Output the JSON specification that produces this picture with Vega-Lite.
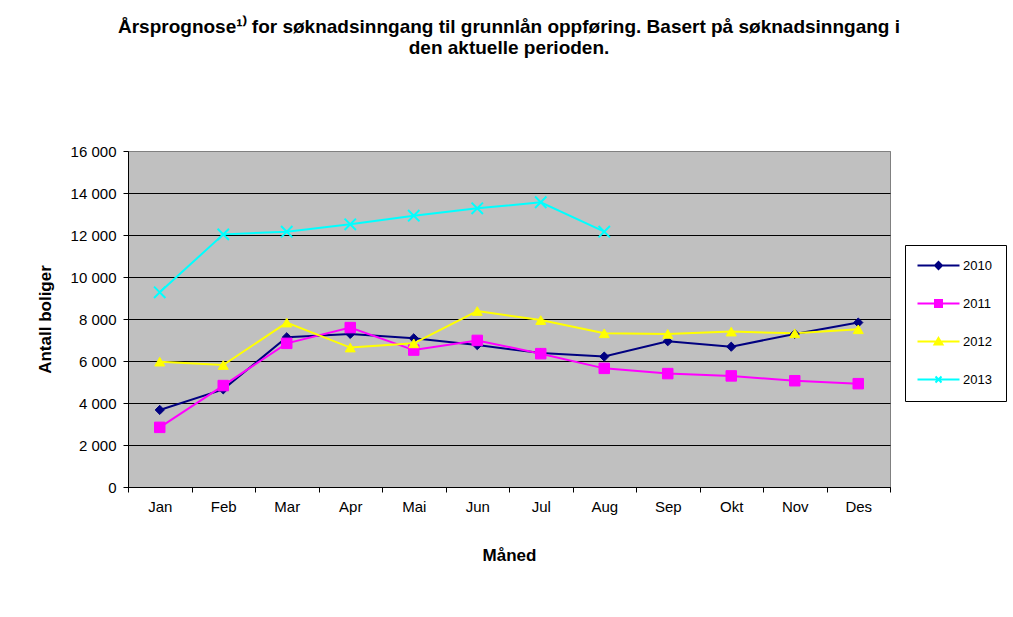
{
  "$schema": "https://vega.github.io/schema/vega-lite/v6.json",
  "width": 762,
  "height": 336,
  "autosize": {"type": "none"},
  "padding": {"left": 128, "top": 151, "right": 123, "bottom": 130},
  "background": "white",
  "title": {
    "text": ["Årsprognose¹⁾ for søknadsinngang til grunnlån oppføring. Basert på søknadsinngang i", "den aktuelle perioden."],
    "font": "Liberation Sans",
    "fontSize": 19,
    "fontWeight": "bold",
    "color": "black",
    "anchor": "middle",
    "frame": "group",
    "lineHeight": 21,
    "offset": 86
  },
  "data": {
    "values": [
      {"month": "Jan", "year": "2010", "value": 3670},
      {"month": "Feb", "year": "2010", "value": 4650},
      {"month": "Mar", "year": "2010", "value": 7130},
      {"month": "Apr", "year": "2010", "value": 7290},
      {"month": "Mai", "year": "2010", "value": 7080},
      {"month": "Jun", "year": "2010", "value": 6760},
      {"month": "Jul", "year": "2010", "value": 6380},
      {"month": "Aug", "year": "2010", "value": 6210},
      {"month": "Sep", "year": "2010", "value": 6940},
      {"month": "Okt", "year": "2010", "value": 6680},
      {"month": "Nov", "year": "2010", "value": 7290},
      {"month": "Des", "year": "2010", "value": 7830},
      {"month": "Jan", "year": "2011", "value": 2840},
      {"month": "Feb", "year": "2011", "value": 4830},
      {"month": "Mar", "year": "2011", "value": 6840},
      {"month": "Apr", "year": "2011", "value": 7590},
      {"month": "Mai", "year": "2011", "value": 6520},
      {"month": "Jun", "year": "2011", "value": 6980},
      {"month": "Jul", "year": "2011", "value": 6350},
      {"month": "Aug", "year": "2011", "value": 5650},
      {"month": "Sep", "year": "2011", "value": 5400},
      {"month": "Okt", "year": "2011", "value": 5290},
      {"month": "Nov", "year": "2011", "value": 5060},
      {"month": "Des", "year": "2011", "value": 4920},
      {"month": "Jan", "year": "2012", "value": 5970},
      {"month": "Feb", "year": "2012", "value": 5810},
      {"month": "Mar", "year": "2012", "value": 7830},
      {"month": "Apr", "year": "2012", "value": 6640},
      {"month": "Mai", "year": "2012", "value": 6840},
      {"month": "Jun", "year": "2012", "value": 8380},
      {"month": "Jul", "year": "2012", "value": 7950},
      {"month": "Aug", "year": "2012", "value": 7320},
      {"month": "Sep", "year": "2012", "value": 7290},
      {"month": "Okt", "year": "2012", "value": 7400},
      {"month": "Nov", "year": "2012", "value": 7320},
      {"month": "Des", "year": "2012", "value": 7510},
      {"month": "Jan", "year": "2013", "value": 9270},
      {"month": "Feb", "year": "2013", "value": 12030},
      {"month": "Mar", "year": "2013", "value": 12160},
      {"month": "Apr", "year": "2013", "value": 12510},
      {"month": "Mai", "year": "2013", "value": 12920},
      {"month": "Jun", "year": "2013", "value": 13270},
      {"month": "Jul", "year": "2013", "value": 13560},
      {"month": "Aug", "year": "2013", "value": 12160}
    ]
  },
  "encoding": {
    "x": {
      "field": "month",
      "type": "nominal",
      "sort": ["Jan", "Feb", "Mar", "Apr", "Mai", "Jun", "Jul", "Aug", "Sep", "Okt", "Nov", "Des"],
      "scale": {"type": "band", "paddingInner": 0, "paddingOuter": 0},
      "axis": {
        "title": "Måned",
        "labelAngle": 0,
        "tickBand": "extent",
        "grid": false,
        "domainColor": "black",
        "tickColor": "black",
        "tickSize": 5,
        "labelPadding": 7,
        "labelFontSize": 15,
        "labelColor": "black",
        "titleFontSize": 17,
        "titleFontWeight": "bold",
        "titleColor": "black",
        "titlePadding": 33
      }
    },
    "y": {
      "field": "value",
      "type": "quantitative",
      "scale": {"domain": [0, 16000], "nice": false},
      "axis": {
        "title": "Antall boliger",
        "values": [0, 2000, 4000, 6000, 8000, 10000, 12000, 14000, 16000],
        "labelExpr": "replace(format(datum.value, ','), ',', ' ')",
        "grid": true,
        "gridColor": {"condition": {"test": "datum.value == 16000", "value": "#808080"}, "value": "black"},
        "gridWidth": 1,
        "domainColor": "black",
        "tickColor": "black",
        "tickSize": 5,
        "labelPadding": 7,
        "labelFontSize": 15,
        "labelColor": "black",
        "titleFontSize": 17,
        "titleFontWeight": "bold",
        "titleColor": "black",
        "titlePadding": 16
      }
    },
    "color": {
      "field": "year",
      "type": "nominal",
      "scale": {"domain": ["2010", "2011", "2012", "2013"], "range": ["#000080", "#FF00FF", "#FFFF00", "#00FFFF"]},
      "legend": {
        "title": null,
        "orient": "none",
        "legendX": 777,
        "legendY": 94,
        "strokeColor": "black",
        "fillColor": "white",
        "padding": 14,
        "rowPadding": 23,
        "symbolSize": 100,
        "symbolOffset": 13,
        "labelOffset": 18,
        "labelFontSize": 13,
        "labelColor": "black",
        "labelFont": "Liberation Sans",
        "encoding": {
          "symbols": {
            "shape": {"value": {"expr": "datum.value == '2010' ? 'M-4.2,0H4.2M0,-0.7L0.7,0L0,0.7L-0.7,0Z' : datum.value == '2011' ? 'M-4.2,0H4.2M-0.7,-0.7H0.7V0.7H-0.7Z' : datum.value == '2012' ? 'M-4.2,0H4.2M0,-0.7L0.8,0.6H-0.8Z' : 'M-4.2,0H4.2M-0.6,-0.6L0.6,0.6M-0.6,0.6L0.6,-0.6'"}},
            "fill": {"value": {"expr": "scale('color', datum.value)"}},
            "stroke": {"value": {"expr": "scale('color', datum.value)"}},
            "strokeWidth": {"value": 2},
            "size": {"value": 100},
            "opacity": {"value": 1}
          }
        }
      }
    }
  },
  "layer": [
    {
      "mark": {"type": "line", "strokeWidth": 2}
    },
    {
      "transform": [{"filter": "datum.year == '2010'"}],
      "mark": {"type": "point", "filled": true, "opacity": 1, "shape": "diamond", "size": 85, "stroke": "#000080", "strokeWidth": 1}
    },
    {
      "transform": [{"filter": "datum.year == '2011'"}],
      "mark": {"type": "point", "filled": true, "opacity": 1, "shape": "square", "size": 110, "stroke": "#FF00FF", "strokeWidth": 1}
    },
    {
      "transform": [{"filter": "datum.year == '2012'"}],
      "mark": {"type": "point", "filled": true, "opacity": 1, "shape": "triangle-up", "size": 100, "stroke": "#FFFF00", "strokeWidth": 1}
    },
    {
      "transform": [{"filter": "datum.year == '2013'"}],
      "mark": {"type": "point", "filled": false, "opacity": 1, "shape": "M-1,-1L1,1M-1,1L1,-1", "size": 130, "strokeWidth": 2}
    }
  ],
  "config": {
    "font": "Liberation Sans",
    "view": {"fill": "#C0C0C0", "stroke": "#808080", "strokeWidth": 1}
  }
}
